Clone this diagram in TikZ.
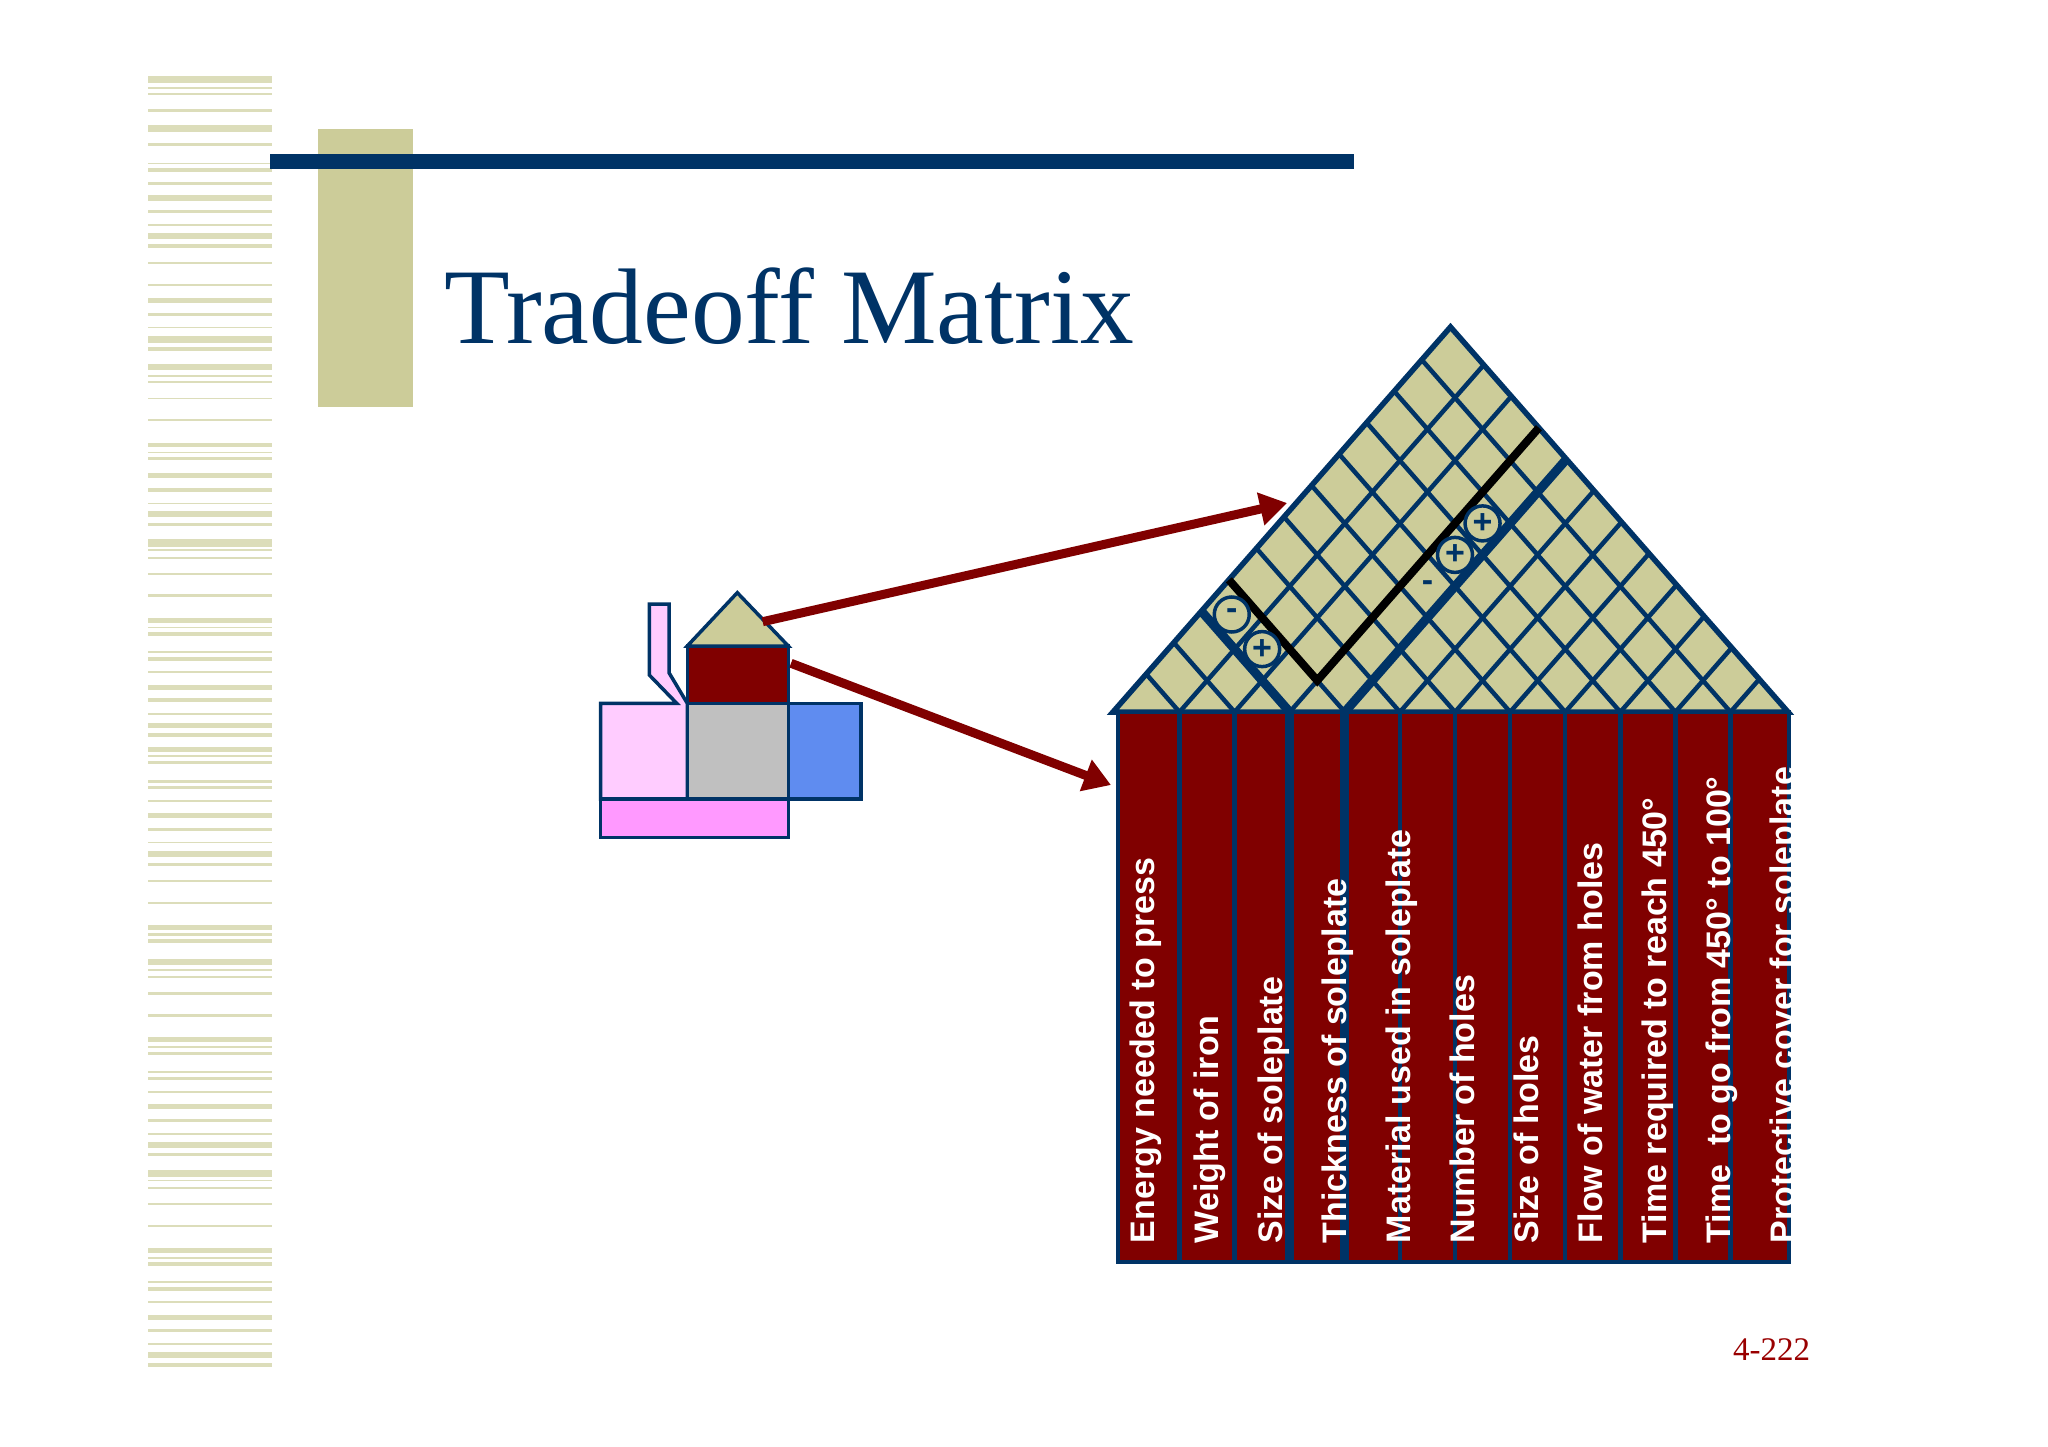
\documentclass[tikz,border=0pt]{standalone}
\usepackage{fontspec}
\setmainfont{Liberation Serif}
\newfontfamily\labelfont{Liberation Sans}
\usetikzlibrary{arrows.meta,calc}
\definecolor{cNavy}{HTML}{003366}
\definecolor{cOlive}{HTML}{CCCC99}
\definecolor{cMaroon}{HTML}{800000}
\definecolor{cStripe}{HTML}{DCDDBA}
\definecolor{cPinkL}{HTML}{FFCCFF}
\definecolor{cPinkD}{HTML}{FF99FF}
\definecolor{cBlue}{HTML}{5F8CF0}
\definecolor{cGrey}{HTML}{C0C0C0}
\definecolor{cPage}{HTML}{990000}
\begin{document}
\begin{tikzpicture}[x=1pt,y=-1pt,
  ironpart/.style={draw=cNavy,line width=3.5,line join=miter},
  gridline/.style={draw=cNavy,line width=4.5},
  colsep/.style={draw=cNavy,line width=4.5},
  thicksep/.style={draw=cNavy,line width=9},
  collabel/.style={rotate=90,anchor=base west,text=white,inner sep=0,
    font=\labelfont\bfseries\fontsize{34}{40}\selectfont},
  signcircle/.style={circle,minimum size=35,inner sep=0,fill=cOlive,draw=cNavy,
    line width=3.5,text=cNavy,font=\labelfont\bfseries\fontsize{34}{38}\selectfont},
  signplain/.style={inner sep=0,text=cNavy,font=\labelfont\bfseries\fontsize{34}{38}\selectfont},
  arr/.style={draw=cMaroon,line width=9,-{Triangle[length=27pt,width=32pt]}}]
\fill[white] (0,0) rectangle (2048,1447);
\useasboundingbox (0,0) rectangle (2048,1447);
% left stripes
\foreach \a/\b in {76/83.3, 86.7/88.7, 92.7/95.3, 109.3/112, 125/131.7, 143.3/146, 162.7/164, 167.7/171.7, 182/184.7, 195/200.7, 210/213.3, 224.3/225.7, 232.7/239.3, 244.3/247.7, 261.7/264, 284/286, 298.3/303.3, 313.3/316, 326.7/328.3, 336/342.7, 347.3/350.7, 364/370, 375/376.7, 381/383.3, 397.7/399.3, 419.3/421.3, 442.7/447.3, 451.7/453.3, 456.7/460, 473.3/478.3, 488.3/491.7, 502.7/504.3, 510.7/517.3, 522.7/526, 539.3/546.7, 549.3/551.3, 556.7/558.7, 572.7/574.7, 594.3/596.7, 617.7/622.7, 626.7/628.3, 631.7/635.7, 651/652.7, 657.3/660.7, 670.7/673.3, 685/690, 698.3/702.3, 713.3/715, 722.7/728.3, 733.3/736.7, 746.7/751.7, 755/756.7, 761/764.3, 780/782.7, 785.7/789, 800/802, 813.3/818.3, 828.3/831, 842/843.3, 850.7/857.3, 862.7/866, 880/881.7, 902/904, 925/930, 933.3/935.7, 939.3/942.7, 959.3/965.3, 969.3/971.3, 975.7/977.7, 991.7/995, 1014.3/1016.7, 1036.7/1042.3, 1046/1048, 1051.7/1055, 1071/1072.7, 1076.7/1080, 1090.7/1092.7, 1104/1108.7, 1118.7/1121.7, 1133.3/1134.7, 1141.7/1148.3, 1152.7/1156, 1170/1176.7, 1180/1181.3, 1186.7/1189, 1202.7/1205.3, 1224.7/1227, 1247.7/1253.3, 1256.7/1258.7, 1262.3/1265.7, 1281.3/1283, 1287/1290.7, 1301/1303.3, 1314.7/1320, 1329.3/1332.3, 1343.3/1345.3, 1352.3/1358.3, 1363.3/1367.3}
  \fill[cStripe] (148,\a) rectangle (272,\b);
% title decoration
\fill[cOlive] (318,129) rectangle (412.7,406.5);
\fill[cNavy] (270,154.3) rectangle (1354.4,169.3);
\node[anchor=base west,text=cNavy,inner sep=0,font=\fontsize{107.5}{120}\selectfont] (title) at (444,343) {Tradeoff Matrix};
% small iron
\filldraw[ironpart,fill=cPinkL] (600.7,703.3) -- (676.7,703.3) -- (649.3,675) -- (649.3,604) -- (669,604) -- (669,672.7) -- (687.3,703.3) -- (687.3,799) -- (600.7,799) -- cycle;
\filldraw[ironpart,fill=cGrey] (687.3,703.3) rectangle (788.3,799);
\filldraw[ironpart,fill=cBlue] (788.3,703.3) rectangle (861,799);
\filldraw[ironpart,fill=cMaroon] (687.3,646) rectangle (788.3,703.3);
\filldraw[ironpart,fill=cOlive] (687.3,646) -- (737.3,592.7) -- (788.3,646) -- cycle;
\filldraw[ironpart,fill=cPinkD] (600.7,799) rectangle (788.3,837.7);
% roof
\fill[cOlive] (1113,712) -- (1450.5,327) -- (1788,712) -- cycle;
\foreach \k in {1,...,11}{
  \pgfmathsetmacro\xk{1179.5+55.1*(\k-1)}
  \pgfmathsetmacro\rx{(\xk+1788)/2}
  \pgfmathsetmacro\ry{712-1.14074*(1788-\xk)/2}
  \pgfmathsetmacro\lx{(\xk+1113)/2}
  \pgfmathsetmacro\ly{712-1.14074*(\xk-1113)/2}
  \draw[gridline] (\lx,\ly) -- (\xk,712) -- (\rx,\ry);
}
\draw[cNavy,line width=5.5,line join=miter] (1113,712) -- (1450.5,327) -- (1788,712) -- cycle;
% columns
\fill[cMaroon] (1118,712) rectangle (1789,1262);
\foreach \k in {1,2,5,6,7,8,9,10,11}{
  \pgfmathsetmacro\xk{1179.5+55.1*(\k-1)}
  \draw[colsep] (\xk,712) -- (\xk,1262);
}
\draw[thicksep] (1289.7,712) -- (1289.7,1262);
\draw[thicksep] (1344.8,712) -- (1344.8,1262);
\draw[cNavy,line width=4.5] (1118,712) rectangle (1789,1262);
\foreach \t [count=\i from 0] in {Energy needed to press, Weight of iron, Size of soleplate, Thickness of soleplate, Material used in soleplate, Number of holes, Size of holes, Flow of water from holes, Time required to reach 450°, Time\ \ to go from 450° to 100°, Protective cover for soleplate}
  \node[collabel] (lab\i) at (1154.5+64*\i,1243.4) {\t};
% highlighted correlations of column 4
\coordinate (b3) at (1289.7,712);
\coordinate (b4) at (1344.8,712);
\coordinate (l3) at (1201.35,611.2);
\coordinate (r4) at (1566.4,459.2);
\coordinate (l4) at (1228.9,579.8);
\coordinate (v34) at (1317.25,680.57);
\coordinate (r3) at (1538.85,427.78);
\draw[cNavy,line width=9] (b3) -- (l3);
\draw[cNavy,line width=9] (b4) -- (r4);
\draw[black,line width=8,line join=miter] (l4) -- (v34) -- (r3);
\node[signcircle] (c41) at (1231.75,614.5) {-};
\node[signcircle] (c42) at (1262.15,649.1) {+};
\node[signcircle] (c49) at (1455,554.9) {+};
\node[signcircle] (c410) at (1482.55,523.4) {+};
\node[signplain] (c48) at (1427.45,586.3) {-};
% arrows
\coordinate (a1s) at (762.7,621.7);
\coordinate (a1e) at (1287,503);
\coordinate (a2s) at (791,663.3);
\coordinate (a2e) at (1111,785);
\draw[arr] (a1s) -- (a1e);
\draw[arr] (a2s) -- (a2e);
% page number
\node[anchor=base west,text=cPage,inner sep=0,font=\fontsize{33}{40}\selectfont] (pg) at (1733,1360) {4-222};
\end{tikzpicture}
\end{document}
